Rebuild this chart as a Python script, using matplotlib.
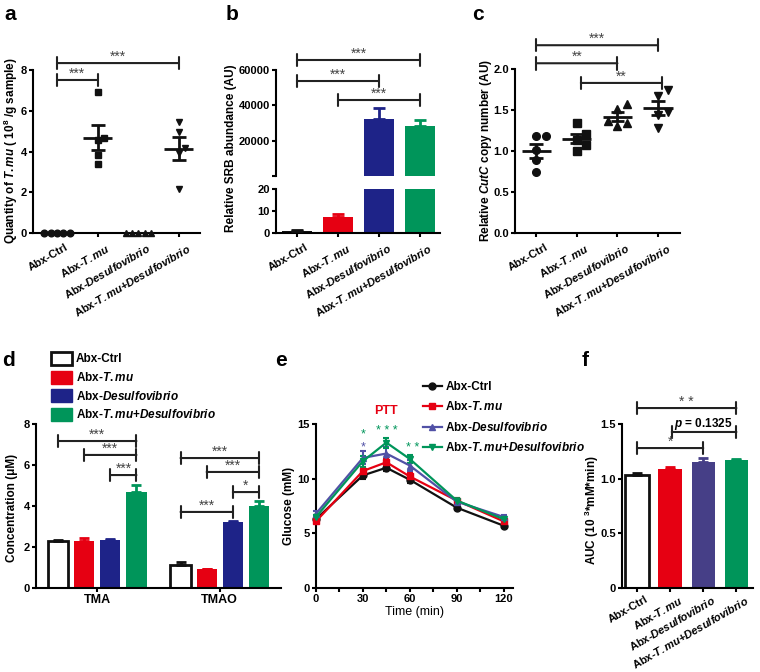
import numpy as np
import matplotlib.pyplot as plt
from matplotlib import transforms as mtransforms
from matplotlib.patches import Patch
from matplotlib.lines import Line2D

plt.rcParams['font.family'] = 'Liberation Sans'
plt.rcParams['font.weight'] = 'bold'
plt.rcParams['mathtext.fontset'] = 'custom'
plt.rcParams['mathtext.rm'] = 'Liberation Sans:bold'
plt.rcParams['mathtext.it'] = 'Liberation Sans:italic:bold'
plt.rcParams['mathtext.bf'] = 'Liberation Sans:bold'
plt.rcParams['axes.linewidth'] = 1.5

# ---- data ----
groups = [r'Abx-Ctrl', r'Abx-$\mathit{T.mu}$', r'Abx-$\mathit{Desulfovibrio}$',
          r'Abx-$\mathit{T.mu}$+$\mathit{Desulfovibrio}$']

# a: quantity of T.mu (10^8 / g sample)
a_ctrl = [0, 0, 0, 0, 0]
a_tmu = [6.93, 4.67, 4.56, 3.82, 3.38]
a_desulfo = [0, 0, 0, 0, 0]
a_both = [5.45, 4.95, 4.15, 3.95, 2.15]

# b: relative SRB abundance (AU)
b_mean = [1.0, 7.5, 32500, 28500]
b_sem = [0.3, 1.0, 5800, 3000]

# c: relative CutC copy number
c_ctrl = [1.18, 1.18, 1.01, 0.89, 0.74]
c_tmu = [1.21, 1.34, 1.00, 1.07, 1.14]
c_desulfo = [1.57, 1.51, 1.37, 1.34, 1.31]
c_both = [1.75, 1.67, 1.47, 1.44, 1.28]

# d: TMA / TMAO concentration (uM)
d_compounds = ['TMA', 'TMAO']
d_tma = [2.30, 2.27, 2.35, 4.70]
d_tma_sem = [0.05, 0.18, 0.05, 0.32]
d_tmao = [1.10, 0.93, 3.23, 4.00]
d_tmao_sem = [0.17, 0.02, 0.05, 0.22]

# e: PTT glucose (mM)
e_time = [0, 30, 45, 60, 90, 120]
e_ctrl = [6.3, 10.3, 11.0, 9.9, 7.35, 5.7]
e_tmu = [6.1, 10.7, 11.5, 10.2, 8.0, 6.1]
e_desulfo = [6.8, 11.9, 12.3, 11.2, 7.9, 6.5]
e_both = [6.5, 11.6, 13.3, 11.8, 8.0, 6.3]
e_ctrl_sem = [0.2, 0.35, 0.3, 0.3, 0.2, 0.15]
e_tmu_sem = [0.2, 0.4, 0.3, 0.3, 0.2, 0.2]
e_desulfo_sem = [0.2, 0.6, 0.6, 0.5, 0.2, 0.2]
e_both_sem = [0.2, 0.5, 0.45, 0.35, 0.2, 0.2]

# f: AUC
f_mean = [1.03, 1.09, 1.15, 1.17]
f_sem = [0.02, 0.015, 0.035, 0.012]

RED = '#E60012'
BLUE = '#1E2388'
GREEN = '#00955A'
PURPLE = '#463F87'
EBLUE = '#5151A6'

W, H = 760, 672
fig = plt.figure(figsize=(7.6, 6.72), dpi=100)


def add_ax(l, t, r, b):
    ax = fig.add_axes([l / W, 1 - b / H, (r - l) / W, (b - t) / H])
    ax.spines['top'].set_visible(False)
    ax.spines['right'].set_visible(False)
    ax.tick_params(width=1.5, length=3, labelsize=8, pad=1.5)
    return ax


def ylab(x, y, text):
    fig.text(x / W, 1 - y / H, text, rotation=90, ha='center', va='center', fontsize=8.5)


def cat_labels(ax, labels, dy=-2):
    ax.set_xticks(range(len(labels)))
    ax.set_xticklabels(labels, rotation=30, ha='right', va='top', rotation_mode='anchor', fontsize=8)
    off = mtransforms.ScaledTranslation(6 / 72, dy / 72, fig.dpi_scale_trans)
    for lab in ax.get_xticklabels():
        lab.set_transform(lab.get_transform() + off)


def bracket(ax, x1, x2, y, text, color='#444', fs=10):
    ax.annotate('', xy=(x1, y), xytext=(x2, y), annotation_clip=False,
                arrowprops=dict(arrowstyle='|-|,widthA=0.45,widthB=0.45', lw=1.5,
                                color='#222', shrinkA=0, shrinkB=0))
    ax.annotate(text, xy=((x1 + x2) / 2, y), xytext=(0, 1.5), textcoords='offset points',
                ha='center', va='baseline', fontsize=fs, fontweight='normal',
                color=color, annotation_clip=False)


def swarm(vals, ypx, xpx, d=6.3):
    vals = np.asarray(vals, float)
    offs = np.zeros(len(vals))
    placed = []
    for i in np.argsort(vals, kind='stable'):
        for k in [0, 1, -1, 2, -2, 3, -3]:
            dx = k * d
            if all((dx - px) ** 2 + ((vals[i] - pv) * ypx) ** 2 >= d ** 2 * 0.95 for px, pv in placed):
                break
        placed.append((dx, vals[i]))
        offs[i] = dx / xpx
    return offs


def scatter_panel(ax, sets, markers, ypx, xpx, ms, d):
    for i, (vals, m) in enumerate(zip(sets, markers)):
        offs = swarm(vals, ypx, xpx, d)
        ax.plot(i + offs, vals, m, color='#111', ms=ms, ls='none', clip_on=False, zorder=3)
        mean = np.mean(vals)
        sem = np.std(vals, ddof=1) / np.sqrt(len(vals))
        ax.hlines(mean, i - 0.36, i + 0.36, color='#111', lw=2, zorder=4)
        if sem > 0:
            ax.hlines([mean - sem, mean + sem], i - 0.17, i + 0.17, color='#111', lw=2, zorder=4)
            ax.vlines(i, mean - sem, mean + sem, color='#111', lw=2, zorder=4)


# ---- panel a ----
ax = add_ax(33, 70, 200, 233)
scatter_panel(ax, [a_ctrl, a_tmu, a_desulfo, a_both], ['o', 's', '^', 'v'], 163 / 8, 40.7, 4.8, 6.3)
ax.set_xlim(-0.59, 3.52)
ax.set_ylim(0, 8)
ax.set_yticks([0, 2, 4, 6, 8])
cat_labels(ax, groups)
bracket(ax, 0, 3, 8.34, '***')
bracket(ax, 0, 1, 7.51, '***')
ylab(11, 151, r'Quantity of $\mathit{T.mu}$ ( 10$^{8}$ /g sample)')

# ---- panel b ----
bcolors = ['#111111', RED, BLUE, GREEN]
axu = add_ax(276, 70, 440, 176)
axl = add_ax(276, 189, 440, 233)
for axx in (axu, axl):
    axx.bar(range(4), b_mean, width=0.73, color=bcolors, zorder=2)
    axx.set_xlim(-0.51, 3.49)
axu.set_ylim(20, 60000)
axl.set_ylim(0, 20)
for i in range(4):
    target = axu if b_mean[i] > 20 else axl
    target.errorbar(i, b_mean[i], yerr=[[0], [b_sem[i]]], fmt='none', ecolor=bcolors[i],
                    elinewidth=2, capsize=4.5, capthick=2, zorder=3)
axu.set_yticks([20, 20000, 40000, 60000])
axu.set_yticklabels(['', '20000', '40000', '60000'])
axu.spines['bottom'].set_visible(False)
axu.set_xticks([])
axl.set_yticks([0, 10, 20])
cat_labels(axl, groups)
bracket(axu, 0, 3, 65660, '***')
bracket(axu, 0, 2, 53770, '***')
bracket(axu, 1, 3, 43020, '***')
ylab(231, 148, 'Relative SRB abundance (AU)')

# ---- panel c ----
ax = add_ax(515, 69, 680, 233)
scatter_panel(ax, [c_ctrl, c_tmu, c_desulfo, c_both], ['o', 's', '^', 'v'], 164 / 2, 40.7, 5.5, 9.5)
ax.set_xlim(-0.52, 3.54)
ax.set_ylim(0, 2.0)
ax.set_yticks([0, 0.5, 1.0, 1.5, 2.0])
ax.set_yticklabels(['0.0', '0.5', '1.0', '1.5', '2.0'])
cat_labels(ax, groups)
bracket(ax, 0, 3, 2.29, '***')
bracket(ax, 0, 2, 2.07, '**')
bracket(ax, 1.1, 3.1, 1.83, '**')
ylab(486, 151, r'Relative $\mathit{CutC}$ copy number (AU)')

# ---- panel d ----
ax = add_ax(36, 424, 281, 588)
dcolors = ['white', RED, BLUE, GREEN]
ecolors = ['#111111', RED, BLUE, GREEN]
offsets = [-0.32, -0.107, 0.107, 0.32]
for g, (vals, sems) in enumerate([(d_tma, d_tma_sem), (d_tmao, d_tmao_sem)]):
    for i in range(4):
        x = g + offsets[i]
        ax.bar(x, vals[i], width=0.165, color=dcolors[i],
               edgecolor='#111111' if i == 0 else dcolors[i], lw=2 if i == 0 else 0, zorder=2)
        ax.errorbar(x, vals[i], yerr=[[0], [sems[i]]], fmt='none', ecolor=ecolors[i],
                    elinewidth=2, capsize=3.6, capthick=2, zorder=3)
ax.set_xlim(-0.5, 1.5)
ax.set_ylim(0, 8)
ax.set_yticks([0, 2, 4, 6, 8])
ax.set_xticks([0, 1])
ax.set_xticklabels(d_compounds, fontsize=9)
bracket(ax, -0.32, 0.32, 7.17, '***')
bracket(ax, -0.107, 0.32, 6.49, '***')
bracket(ax, 0.107, 0.32, 5.51, '***')
bracket(ax, 1 - 0.32, 1.32, 6.34, '***')
bracket(ax, 1 - 0.107, 1.32, 5.66, '***')
bracket(ax, 1.107, 1.32, 4.68, '*')
bracket(ax, 1 - 0.32, 1.107, 3.71, '***')
ylab(12, 508, u'Concentration (\u03bcM)')
handles = [Patch(facecolor='white', edgecolor='#111111', lw=2), Patch(color=RED),
           Patch(color=BLUE), Patch(color=GREEN)]
ax.legend(handles, groups, loc='upper left', bbox_to_anchor=(51 / W, 1 - 352 / H),
          bbox_transform=fig.transFigure, frameon=False, borderpad=0, borderaxespad=0,
          handlelength=1.8, handleheight=1.3, handletextpad=0.3, labelspacing=0.45,
          prop={'size': 8.5, 'weight': 'bold'})

# ---- panel e ----
ax = add_ax(316, 424, 513, 588)
series = [(e_ctrl, e_ctrl_sem, '#111111', 'o'), (e_tmu, e_tmu_sem, RED, 's'),
          (e_desulfo, e_desulfo_sem, EBLUE, '^'), (e_both, e_both_sem, GREEN, 'v')]
for vals, sems, col, m in series:
    ax.errorbar(e_time, vals, yerr=sems, color=col, marker=m, ms=5, lw=1.6,
                elinewidth=1.5, capsize=2.5, capthick=1.5, clip_on=False, zorder=3)
ax.set_xlim(0, 126)
ax.set_ylim(0, 15)
ax.set_xticks([0, 30, 60, 90, 120])
ax.set_xticks([15, 45, 75, 105], minor=True)
ax.tick_params(which='minor', width=1.5, length=3)
ax.set_yticks([0, 5, 10, 15])
ax.set_xlabel('Time (min)', fontsize=9, labelpad=1)
ylab(289, 506, 'Glucose (mM)')
star_kw = dict(ha='center', va='baseline', fontsize=9, fontweight='normal')
ax.text(30, 13.8, '*', color=GREEN, **star_kw)
ax.text(30, 12.6, '*', color=EBLUE, **star_kw)
ax.text(45, 14.1, '* * *', color=GREEN, **star_kw)
ax.text(62, 12.5, '* *', color=GREEN, **star_kw)
ax.text(45, 16.2, 'PTT', color=RED, ha='center', va='center', fontsize=9)
handles = [Line2D([], [], color=c, marker=m, ms=5, lw=1.6) for _, _, c, m in series]
ax.legend(handles, groups, loc='upper left', bbox_to_anchor=(423 / W, 1 - 381 / H),
          bbox_transform=fig.transFigure, frameon=False, borderpad=0, borderaxespad=0,
          handlelength=1.6, handletextpad=0.3, labelspacing=0.62,
          prop={'size': 8.5, 'weight': 'bold'})

# ---- panel f ----
ax = add_ax(622, 424, 753, 588)
fcolors = ['white', RED, PURPLE, GREEN]
for i in range(4):
    ax.bar(i, f_mean[i], width=0.7, color=fcolors[i],
           edgecolor='#111111' if i == 0 else fcolors[i], lw=2 if i == 0 else 0, zorder=2)
    ax.errorbar(i, f_mean[i], yerr=[[0], [f_sem[i]]], fmt='none', ecolor=ecolors[i] if i != 2 else PURPLE,
                elinewidth=2, capsize=3.6, capthick=2, zorder=3)
ax.set_xlim(-0.45, 3.5)
ax.set_ylim(0, 1.5)
ax.set_yticks([0, 0.5, 1.0, 1.5])
ax.set_yticklabels(['0', '0.5', '1.0', '1.5'])
cat_labels(ax, groups, dy=0)
bracket(ax, 0, 3, 1.646, '* *')
bracket(ax, 1.05, 3, 1.427, '')
ax.text(2.0, 1.47, r'$\mathit{p}$ = 0.1325', ha='center', va='baseline', fontsize=8.5)
bracket(ax, 0, 2, 1.28, '*')
ylab(592, 510, r'AUC (10 $^{3}$*mM*min)')

# panel letters
for letter, x, y in [('a', 4, 20), ('b', 226, 20), ('c', 472, 20),
                     ('d', 2, 366), ('e', 275, 366), ('f', 582, 366)]:
    fig.text(x / W, 1 - y / H, letter, fontsize=15, fontweight='bold', va='baseline')

fig.savefig('out.png', dpi=100)
